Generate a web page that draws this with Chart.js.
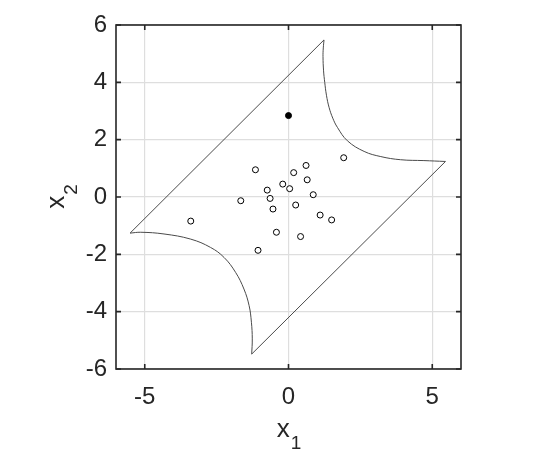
<!DOCTYPE html>
<html>
<head>
<meta charset="utf-8">
<script src="https://cdn.jsdelivr.net/npm/chart.js"></script>
<style>
  body { margin: 0; background: #fff; }
</style>
</head>
<body>
<canvas id="chart" width="541" height="452"></canvas>
<script>
// sample points (open circles)
const x1_open = [1.92, 0.61, -1.15, 0.18, 0.65, -0.20, 0.04, -0.74, 0.86, -0.64, -1.66, 0.25, -0.54, 1.10, 1.50, -3.40, -0.42, 0.42, -1.06]
const x2_open = [1.37, 1.10, 0.95, 0.85, 0.60, 0.45, 0.29, 0.24, 0.08, -0.05, -0.13, -0.28, -0.42, -0.63, -0.80, -0.84, -1.23, -1.38, -1.86]

// the single filled point
const x1_mark = [0.0]
const x2_mark = [2.84]

// straight edges of the region
const upper_edge_x1 = [-5.51, 1.235]
const upper_edge_x2 = [-1.26, 5.48]
const lower_edge_x1 = [-1.28, 5.46]
const lower_edge_x2 = [-5.48, 1.24]

// curved edges
const ne_curve_x1 = [1.235, 1.21, 1.20, 1.22, 1.26, 1.32, 1.41, 1.54, 1.70, 2.05, 2.63, 3.21, 3.90, 4.71, 5.46]
const ne_curve_x2 = [5.48, 5.20, 4.90, 4.40, 4.00, 3.55, 3.13, 2.75, 2.43, 1.96, 1.59, 1.41, 1.30, 1.27, 1.24]
const sw_curve_x1 = [-1.28, -1.26, -1.29, -1.37, -1.55, -1.84, -2.24, -2.71, -3.40, -4.33, -5.14, -5.51]
const sw_curve_x2 = [-5.48, -4.95, -4.37, -3.79, -3.21, -2.63, -2.11, -1.76, -1.47, -1.29, -1.23, -1.26]

const x_ticks = [-5, 0, 5]
const y_ticks = [-6, -4, -2, 0, 2, 4, 6]

const ink = '#262626'
const edge_color = '#4a4a4a'
const font_family = '"Liberation Sans", Arial, Helvetica, sans-serif'

const toPoints = (xs, ys) => xs.map((v, i) => ({ x: v, y: ys[i] }))

function edge(xs, ys, tension) {
  return {
    data: toPoints(xs, ys),
    showLine: true,
    borderColor: edge_color,
    borderWidth: 1,
    pointRadius: 0,
    fill: false,
    tension: tension,
    order: 3
  }
}

const box_plugin = {
  id: 'box',
  afterDraw(chart) {
    const ctx = chart.ctx
    const area = chart.chartArea
    const xs = chart.scales.x
    const ys = chart.scales.y
    const tick_len = 5

    ctx.save()
    ctx.strokeStyle = ink
    ctx.lineWidth = 1.6
    ctx.strokeRect(area.left, area.top, area.right - area.left, area.bottom - area.top)

    ctx.beginPath()
    x_ticks.forEach(v => {
      const px = xs.getPixelForValue(v)
      ctx.moveTo(px, area.bottom); ctx.lineTo(px, area.bottom - tick_len)
      ctx.moveTo(px, area.top); ctx.lineTo(px, area.top + tick_len)
    })
    y_ticks.forEach(v => {
      const py = ys.getPixelForValue(v)
      ctx.moveTo(area.left, py); ctx.lineTo(area.left + tick_len, py)
      ctx.moveTo(area.right, py); ctx.lineTo(area.right - tick_len, py)
    })
    ctx.stroke()

    // axis titles with subscripts
    ctx.fillStyle = ink
    ctx.textBaseline = 'alphabetic'
    ctx.textAlign = 'left'
    const big = '26px ' + font_family
    const small = '19px ' + font_family

    ctx.font = big
    const wx = ctx.measureText('x').width
    ctx.font = small
    const w1 = ctx.measureText('1').width
    const cx = (area.left + area.right) / 2
    let start = cx - (wx + w1) / 2
    ctx.font = big
    ctx.fillText('x', start, area.bottom + 67.5)
    ctx.font = small
    ctx.fillText('1', start + wx + 1, area.bottom + 79.5)

    const cy = (area.top + area.bottom) / 2
    ctx.translate(area.left - 52, cy)
    ctx.rotate(-Math.PI / 2)
    ctx.font = big
    const wy = ctx.measureText('x').width
    ctx.font = small
    const w2 = ctx.measureText('2').width
    start = -(wy + w2) / 2
    ctx.font = big
    ctx.fillText('x', start, 0)
    ctx.font = small
    ctx.fillText('2', start + wy + 1, 13)
    ctx.restore()
  }
}

const ctx = document.getElementById('chart').getContext('2d')

const myChart = new Chart(ctx, {
  type: 'scatter',
  data: {
    datasets: [
      edge(upper_edge_x1, upper_edge_x2, 0),
      edge(lower_edge_x1, lower_edge_x2, 0),
      edge(ne_curve_x1, ne_curve_x2, 0.4),
      edge(sw_curve_x1, sw_curve_x2, 0.4),
      {
        label: 'samples',
        data: toPoints(x1_open, x2_open),
        pointRadius: 3,
        pointBorderWidth: 1,
        borderColor: '#000',
        backgroundColor: '#fff',
        order: 2
      },
      {
        label: 'mark',
        data: toPoints(x1_mark, x2_mark),
        pointRadius: 3,
        pointBorderWidth: 1,
        borderColor: '#000',
        backgroundColor: '#000',
        order: 1
      }
    ]
  },
  options: {
    responsive: false,
    animation: false,
    layout: { padding: { top: 25, right: 80, left: 0, bottom: 0 } },
    plugins: {
      legend: { display: false },
      tooltip: { enabled: false }
    },
    scales: {
      x: {
        type: 'linear',
        min: -6,
        max: 6,
        afterBuildTicks: s => { s.ticks = x_ticks.map(v => ({ value: v })) },
        afterFit: s => { s.height = 83 },
        grid: { color: '#dedede', lineWidth: 1.2, drawTicks: false },
        border: { display: false },
        ticks: {
          color: ink,
          padding: 14,
          maxRotation: 0,
          font: { family: font_family, size: 24 }
        }
      },
      y: {
        type: 'linear',
        min: -6,
        max: 6,
        afterBuildTicks: s => { s.ticks = y_ticks.map(v => ({ value: v })) },
        afterFit: s => { s.width = 116 },
        grid: { color: '#dedede', lineWidth: 1.2, drawTicks: false },
        border: { display: false },
        ticks: {
          color: ink,
          padding: 9,
          font: { family: font_family, size: 24 }
        }
      }
    }
  },
  plugins: [box_plugin]
})
</script>
</body>
</html>
